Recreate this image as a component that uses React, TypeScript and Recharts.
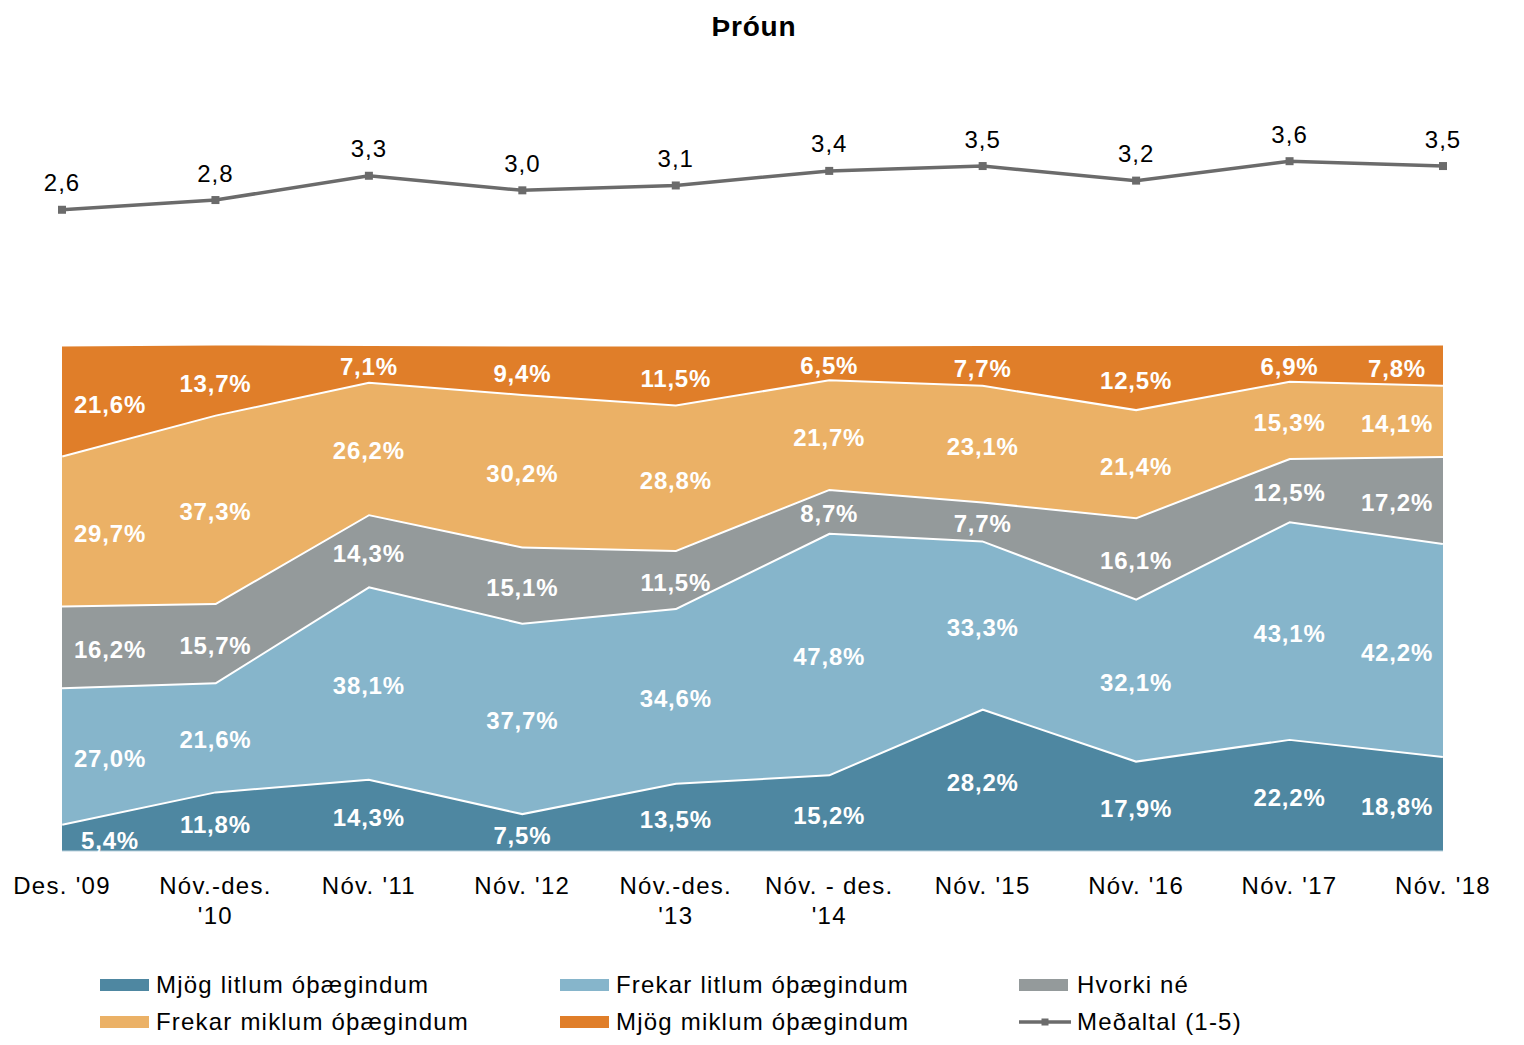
import React from "react";
import { ComposedChart, Area, Line, XAxis, YAxis, Legend, LabelList } from "recharts";

const categories = [
  "Des. '09",
  "Nóv.-des.\n'10",
  "Nóv. '11",
  "Nóv. '12",
  "Nóv.-des.\n'13",
  "Nóv. - des.\n'14",
  "Nóv. '15",
  "Nóv. '16",
  "Nóv. '17",
  "Nóv. '18",
];

const mjogLitlum = [5.4, 11.8, 14.3, 7.5, 13.5, 15.2, 28.2, 17.9, 22.2, 18.8];
const frekarLitlum = [27.0, 21.6, 38.1, 37.7, 34.6, 47.8, 33.3, 32.1, 43.1, 42.2];
const hvorkiNe = [16.2, 15.7, 14.3, 15.1, 11.5, 8.7, 7.7, 16.1, 12.5, 17.2];
const frekarMiklum = [29.7, 37.3, 26.2, 30.2, 28.8, 21.7, 23.1, 21.4, 15.3, 14.1];
const mjogMiklum = [21.6, 13.7, 7.1, 9.4, 11.5, 6.5, 7.7, 12.5, 6.9, 7.8];
const medaltal = [2.6, 2.8, 3.3, 3.0, 3.1, 3.4, 3.5, 3.2, 3.6, 3.5];

const series = [
  { key: "s0", name: "Mjög litlum óþægindum", color: "#4e87a1", values: mjogLitlum },
  { key: "s1", name: "Frekar litlum óþægindum", color: "#86b5cb", values: frekarLitlum },
  { key: "s2", name: "Hvorki né", color: "#949a9b", values: hvorkiNe },
  { key: "s3", name: "Frekar miklum óþægindum", color: "#ebb166", values: frekarMiklum },
  { key: "s4", name: "Mjög miklum óþægindum", color: "#e07e29", values: mjogMiklum },
];

const LINE_COLOR = "#6b6b6b";
const FONT = '"Liberation Sans", Arial, sans-serif';

// one row per category, plus the middle of each band for the labels
const data = categories.map((name, i) => {
  const row: Record<string, any> = { name, avg: medaltal[i] };
  let cum = 0;
  series.forEach((s) => {
    row[s.key] = s.values[i];
    row["m" + s.key] = cum + s.values[i] / 2;
    cum += s.values[i];
  });
  return row;
});

const fmt = (v: number) => v.toFixed(1).replace(".", ",");

const pos = (props: any) => {
  const vb = props.viewBox || {};
  const x = vb.x ?? props.x;
  const y = vb.y ?? props.y;
  const w = vb.width ?? props.width ?? 0;
  return { x: x + (w || 0) / 2, y };
};

const pctLabel = (values: number[]) => (props: any) => {
  const { x, y } = pos(props);
  const i = props.index;
  if (x == null || y == null || i == null) return null;
  const dx = i === 0 ? 48 : i === values.length - 1 ? -46 : 0;
  return (
    <text
      x={x + dx}
      y={y + 11.5}
      textAnchor="middle"
      fill="#fff"
      fontWeight="bold"
      fontSize={24}
      letterSpacing={0.8}
      fontFamily={FONT}
    >
      {fmt(values[i]) + "%"}
    </text>
  );
};

const avgLabel = (props: any) => {
  const { x, y } = pos(props);
  const i = props.index;
  if (x == null || y == null || i == null) return null;
  return (
    <text x={x} y={y - 18.5} textAnchor="middle" fill="#000" fontSize={24} letterSpacing={1} fontFamily={FONT}>
      {fmt(medaltal[i])}
    </text>
  );
};

const CategoryTick = (props: any) => {
  const { x, y, payload } = props;
  const lines = String(payload.value).split("\n");
  return (
    <text x={x} y={y} textAnchor="middle" fill="#000" fontSize={24} letterSpacing={1.3} fontFamily={FONT}>
      {lines.map((l, i) => (
        <tspan key={i} x={x} dy={i === 0 ? 42.6 : 30}>
          {l}
        </tspan>
      ))}
    </text>
  );
};

const SquareDot = (props: any) => {
  const { cx, cy, index } = props;
  if (cx == null || cy == null) return null;
  return <rect key={"d" + index} x={cx - 4} y={cy - 4} width={8} height={8} fill={LINE_COLOR} />;
};

const legendItems = [
  { name: series[0].name, color: series[0].color, line: false },
  { name: series[1].name, color: series[1].color, line: false },
  { name: series[2].name, color: series[2].color, line: false },
  { name: series[3].name, color: series[3].color, line: false },
  { name: series[4].name, color: series[4].color, line: false },
  { name: "Meðaltal (1-5)", color: LINE_COLOR, line: true },
];
const markX = [92, 552, 1011];
const textX = [148, 608, 1069];

const renderLegend = () => (
  <div style={{ position: "relative", width: 1508, height: 80, fontFamily: FONT, fontSize: 24, letterSpacing: 1.2, color: "#000" }}>
    {legendItems.map((it, i) => {
      const col = i % 3;
      const top = 12 + Math.floor(i / 3) * 37;
      return (
        <React.Fragment key={it.name}>
          <div style={{ position: "absolute", left: markX[col], top, height: 30, display: "flex", alignItems: "center" }}>
            {it.line ? (
              <svg width={52} height={12}>
                <line x1={0} y1={6} x2={52} y2={6} stroke={it.color} strokeWidth={3.5} />
                <rect x={22.5} y={2.5} width={7} height={7} fill={it.color} />
              </svg>
            ) : (
              <div style={{ width: 49, height: 12, background: it.color }} />
            )}
          </div>
          <div
            style={{
              position: "absolute",
              left: textX[col],
              top,
              height: 30,
              display: "flex",
              alignItems: "center",
              whiteSpace: "nowrap",
            }}
          >
            {it.name}
          </div>
        </React.Fragment>
      );
    })}
  </div>
);

export default function App() {
  return (
    <div style={{ position: "relative", width: 1508, height: 1029 }}>
      <ComposedChart width={1508} height={1029} data={data} margin={{ top: 40, right: 73, left: 54, bottom: 116 }}>
        <XAxis
          dataKey="name"
          scale="point"
          padding={{ left: 0, right: 0 }}
          interval={0}
          height={70}
          tickLine={false}
          tickSize={0}
          tickMargin={0}
          axisLine={{ stroke: "#bcd2dd", strokeWidth: 1 }}
          tick={<CategoryTick />}
        />
        <YAxis yAxisId="pct" hide domain={[0, 159]} allowDataOverflow />
        <YAxis yAxisId="avg" hide domain={[-10.6, 5.93]} allowDataOverflow />
        {series.map((s, idx) => (
          <Area
            key={s.key}
            yAxisId="pct"
            type="linear"
            dataKey={s.key}
            name={s.name}
            stackId="pct"
            fill={s.color}
            fillOpacity={1}
            stroke={idx === series.length - 1 ? "none" : "#fff"}
            strokeWidth={4}
            dot={false}
            activeDot={false}
            isAnimationActive={false}
          />
        ))}
        {series.map((s) => (
          <Line
            key={"m" + s.key}
            yAxisId="pct"
            type="linear"
            dataKey={"m" + s.key}
            stroke="none"
            dot={false}
            activeDot={false}
            legendType="none"
            isAnimationActive={false}
          >
            <LabelList content={pctLabel(s.values)} />
          </Line>
        ))}
        <Line
          yAxisId="avg"
          type="linear"
          dataKey="avg"
          name="Meðaltal (1-5)"
          stroke={LINE_COLOR}
          strokeWidth={3.5}
          dot={<SquareDot />}
          activeDot={false}
          isAnimationActive={false}
        >
          <LabelList content={avgLabel} />
        </Line>
        <Legend
          layout="horizontal"
          align="center"
          verticalAlign="middle"
          wrapperStyle={{ top: 950, left: 0, width: 1508, height: 80 }}
          content={renderLegend}
        />
      </ComposedChart>
      <div
        style={{
          position: "absolute",
          top: 0,
          left: 0,
          width: 1492,
          height: 38,
          lineHeight: "38px",
          textAlign: "center",
          fontFamily: FONT,
          fontWeight: "bold",
          fontSize: 28,
          letterSpacing: 0.8,
          color: "#000",
        }}
      >
        Þróun
      </div>
    </div>
  );
}
